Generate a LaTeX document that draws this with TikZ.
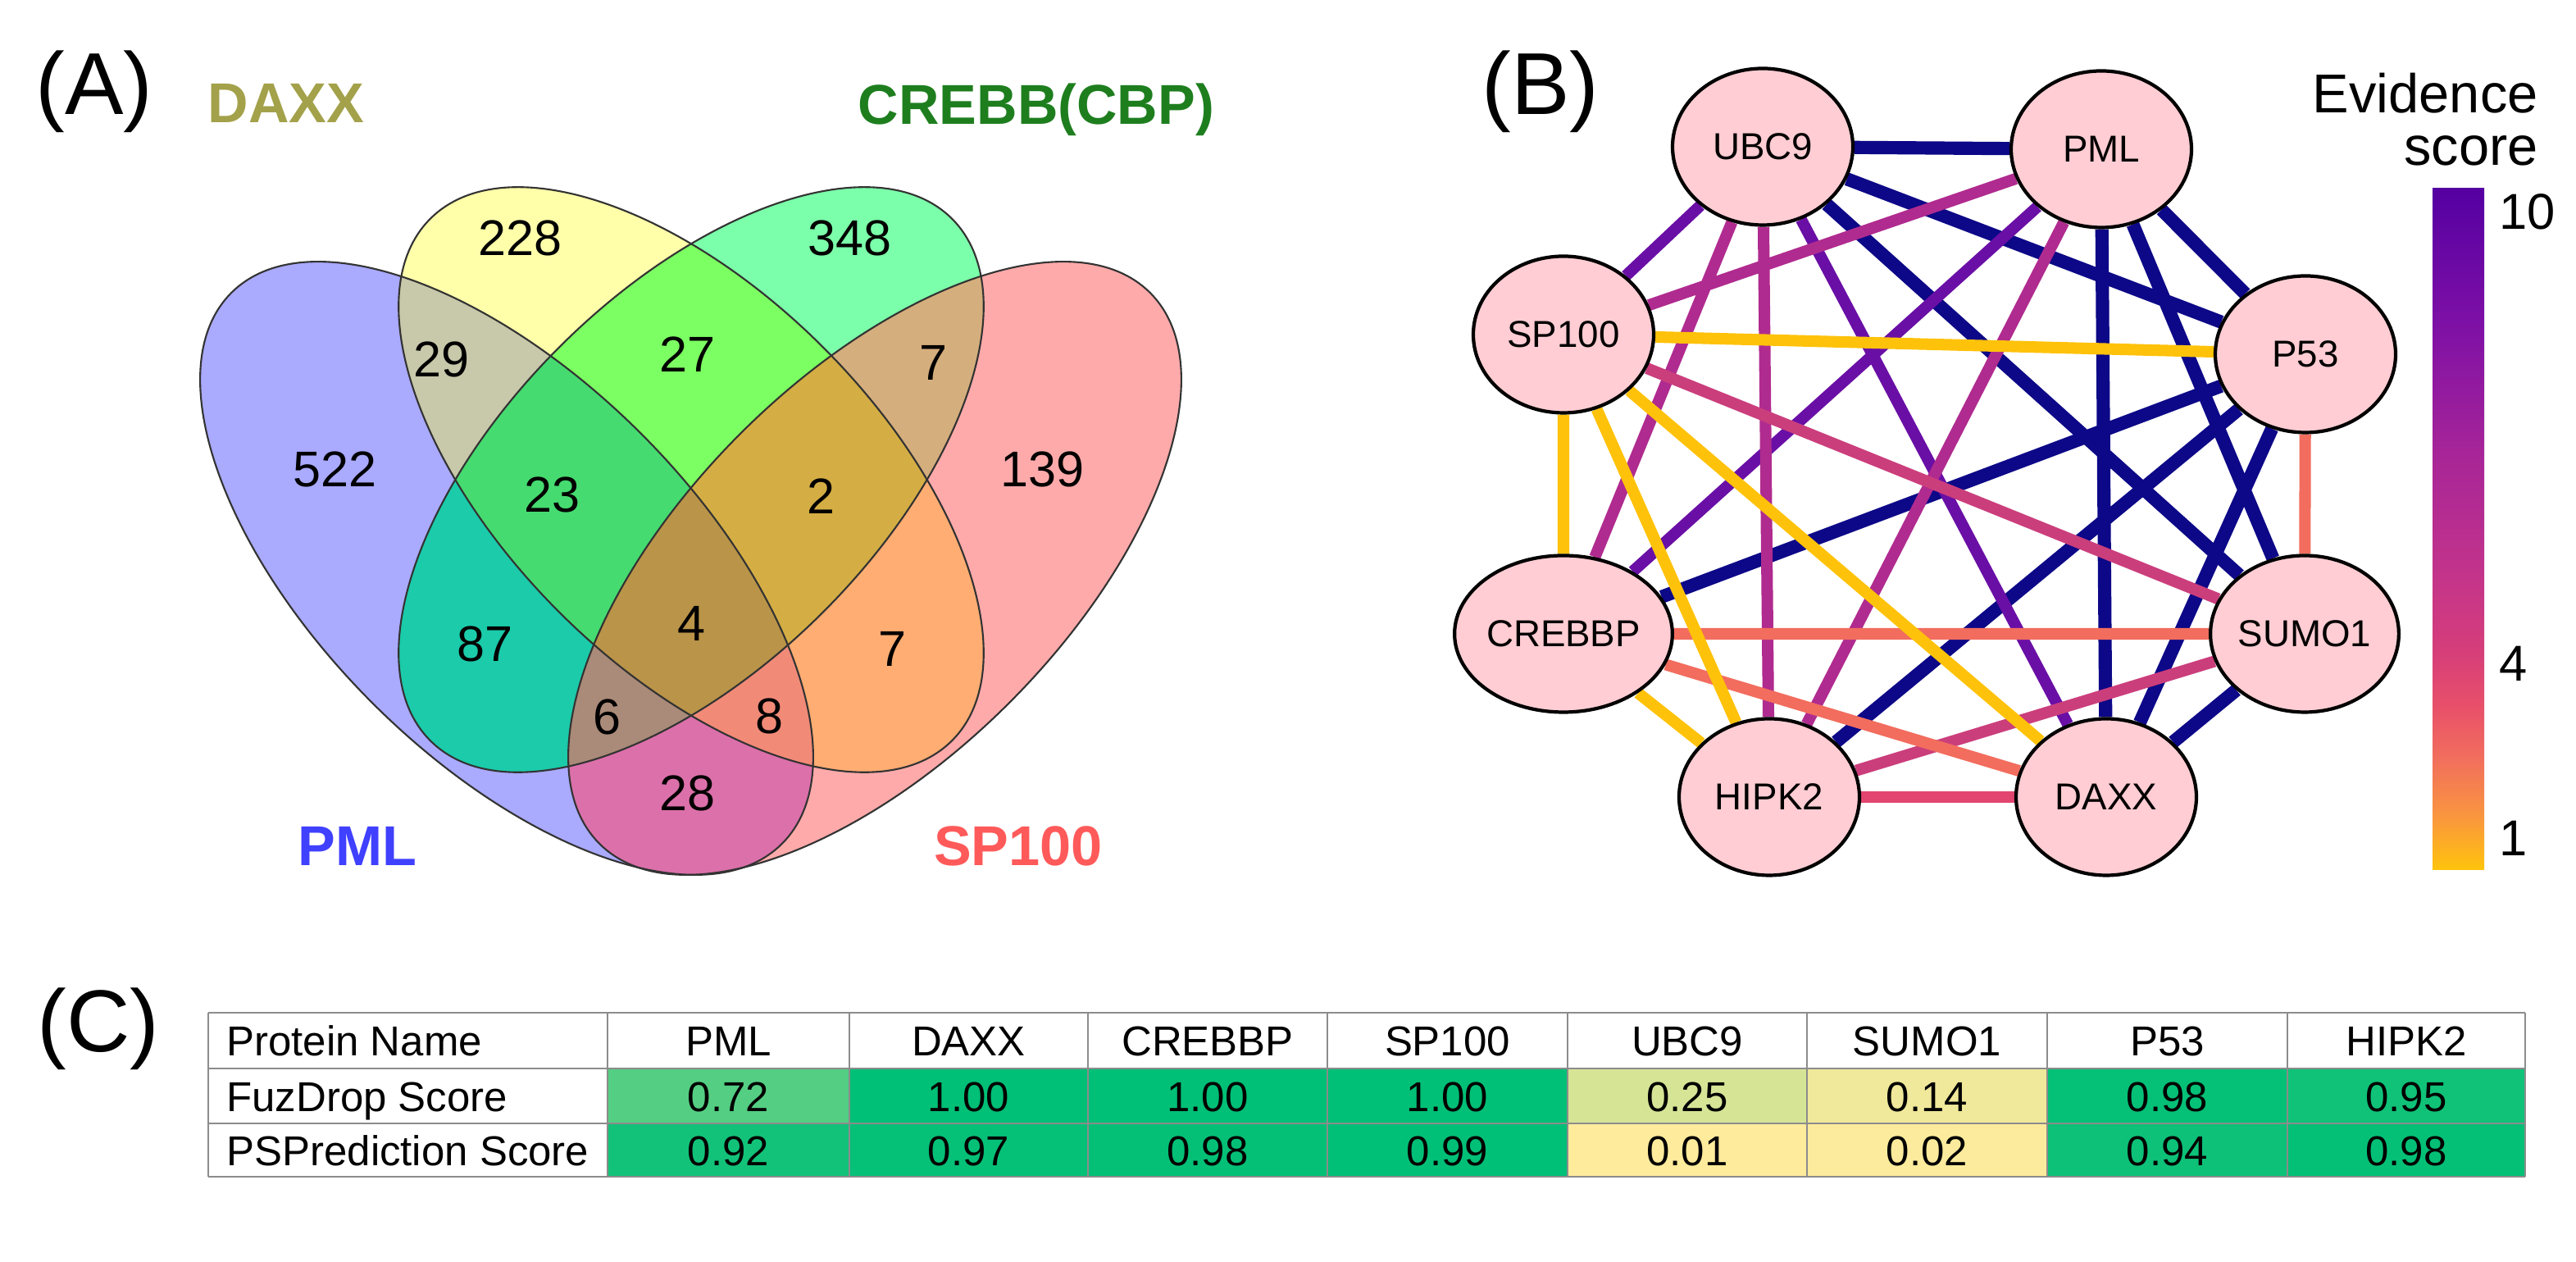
\documentclass[tikz,border=0pt]{standalone}
\usepackage{fontspec}
\setmainfont{Liberation Sans}
\usetikzlibrary{shapes.geometric,backgrounds}

\definecolor{vP}{HTML}{AAAAFF}
\definecolor{vD}{HTML}{FFFFAA}
\definecolor{vC}{HTML}{7CFFAA}
\definecolor{vS}{HTML}{FFAAAA}
\definecolor{vPD}{HTML}{C8C8AA}
\definecolor{vPC}{HTML}{1BCBAA}
\definecolor{vPS}{HTML}{DC70AA}
\definecolor{vDC}{HTML}{7CFF62}
\definecolor{vDS}{HTML}{FFAD72}
\definecolor{vCS}{HTML}{D5AE7D}
\definecolor{vPDC}{HTML}{45DB70}
\definecolor{vPDS}{HTML}{F28A78}
\definecolor{vPCS}{HTML}{AA8A78}
\definecolor{vDCS}{HTML}{D4AE44}
\definecolor{vall}{HTML}{BA9448}
\definecolor{lPML}{HTML}{4040FF}
\definecolor{lDAXX}{HTML}{A3A14A}
\definecolor{lCBP}{HTML}{1E7E1E}
\definecolor{lSP}{HTML}{FF5A5A}
\definecolor{protpink}{HTML}{FFCDD3}
\definecolor{enavy}{HTML}{0D0887}
\definecolor{epurple}{HTML}{6A0FA6}
\definecolor{emag}{HTML}{B02B8F}
\definecolor{epink}{HTML}{CB3E7C}
\definecolor{erose}{HTML}{E2456F}
\definecolor{ecoral}{HTML}{F26D5E}
\definecolor{egold}{HTML}{FFC20A}
\definecolor{tgreen}{HTML}{00BF76}
\definecolor{tyellow}{HTML}{FFEB9C}
\definecolor{cbA}{HTML}{FFC40C}
\definecolor{cbB}{HTML}{F9953F}
\definecolor{cbC}{HTML}{F2705C}
\definecolor{cbD}{HTML}{E8506A}
\definecolor{cbE}{HTML}{D63E7A}
\definecolor{cbF}{HTML}{C2338B}
\definecolor{cbG}{HTML}{A92697}
\definecolor{cbH}{HTML}{7E10A6}
\definecolor{cbI}{HTML}{5500A2}

\pgfdeclareverticalshading{evidencebar}{100bp}{color(0bp)=(cbA); color(25bp)=(cbA); color(29bp)=(cbB); color(33bp)=(cbC); color(37bp)=(cbD); color(41bp)=(cbE); color(47bp)=(cbF); color(55bp)=(cbG); color(65bp)=(cbH); color(75bp)=(cbI); color(100bp)=(cbI)}

\newcommand{\vennell}[6]{\path[#6,rotate around={#3:(#1,#2)}] (#1,#2) ellipse (#4 and #5);}
\newcommand{\setPML}[1]{\vennell{6.18}{8.46}{-45}{4.75}{2.32}{#1}}
\newcommand{\setDAXX}[1]{\vennell{8.43}{9.54}{-45}{4.50}{2.28}{#1}}
\newcommand{\setCBP}[1]{\vennell{8.43}{9.54}{45}{4.50}{2.28}{#1}}
\newcommand{\setSP}[1]{\vennell{10.67}{8.46}{45}{4.75}{2.32}{#1}}

\begin{document}
\begin{tikzpicture}[
    num/.style={font=\fontsize{17.4}{20}\selectfont},
    setlabel/.style={anchor=base,font=\bfseries\fontsize{19.5}{22}\selectfont},
    panel/.style={anchor=base,font=\fontsize{30.5}{34}\selectfont},
    prot/.style={ellipse,draw=black,line width=1.2pt,fill=protpink,minimum width=2.2cm,minimum height=1.91cm,inner sep=0pt,font=\fontsize{13}{15}\selectfont},
    link/.style={line width=4pt},
    strong/.style={line width=4.6pt},
    cbtext/.style={font=\fontsize{19}{22}\selectfont},
    tick/.style={anchor=west,font=\fontsize{17.5}{20}\selectfont},
    cell/.style={anchor=base,font=\fontsize{14.5}{17}\selectfont},
    tabline/.style={draw=black!45,line width=0.6pt}]
  \useasboundingbox (0,0) rectangle (31.42,15.39);

  \setPML{fill=vP} \setDAXX{fill=vD} \setCBP{fill=vC} \setSP{fill=vS}
  \begin{scope}\setPML{clip}\setDAXX{fill=vPD}\end{scope}
  \begin{scope}\setPML{clip}\setCBP{fill=vPC}\end{scope}
  \begin{scope}\setPML{clip}\setSP{fill=vPS}\end{scope}
  \begin{scope}\setDAXX{clip}\setCBP{fill=vDC}\end{scope}
  \begin{scope}\setDAXX{clip}\setSP{fill=vDS}\end{scope}
  \begin{scope}\setCBP{clip}\setSP{fill=vCS}\end{scope}
  \begin{scope}\setPML{clip}\setDAXX{clip}\setCBP{fill=vPDC}\end{scope}
  \begin{scope}\setPML{clip}\setDAXX{clip}\setSP{fill=vPDS}\end{scope}
  \begin{scope}\setPML{clip}\setCBP{clip}\setSP{fill=vPCS}\end{scope}
  \begin{scope}\setDAXX{clip}\setCBP{clip}\setSP{fill=vDCS}\end{scope}
  \begin{scope}\setPML{clip}\setDAXX{clip}\setCBP{clip}\setSP{fill=vall}\end{scope}
  \setPML{draw=black!80,line width=0.6pt} \setDAXX{draw=black!80,line width=0.6pt}
  \setCBP{draw=black!80,line width=0.6pt} \setSP{draw=black!80,line width=0.6pt}

  \node[panel] (pa) at (1.15,13.99) {(A)};
  \node[setlabel,text=lDAXX] (tdaxx) at (3.49,13.89) {DAXX};
  \node[setlabel,text=lCBP] (tcbp) at (12.64,13.87) {CREBB(CBP)};
  \node[setlabel,text=lPML] (tpml) at (4.36,4.83) {PML};
  \node[setlabel,text=lSP] (tsp) at (12.42,4.83) {SP100};
  \node[num] (n228) at (6.35,12.49) {228};
  \node[num] (n348) at (10.37,12.49) {348};
  \node[num] (n29) at (5.39,11.01) {29};
  \node[num] (n27) at (8.39,11.07) {27};
  \node[num] (n7a) at (11.38,10.97) {7};
  \node[num] (n522) at (4.09,9.67) {522};
  \node[num] (n23) at (6.74,9.36) {23};
  \node[num] (n2) at (10.01,9.34) {2};
  \node[num] (n139) at (12.72,9.67) {139};
  \node[num] (n87) at (5.92,7.54) {87};
  \node[num] (n4) at (8.43,7.79) {4};
  \node[num] (n7b) at (10.88,7.48) {7};
  \node[num] (n6) at (7.41,6.65) {6};
  \node[num] (n8) at (9.38,6.66) {8};
  \node[num] (n28) at (8.39,5.72) {28};

  \node[panel] (pb) at (18.79,13.99) {(B)};
  \node[prot] (ubc9) at (21.50,13.60) {UBC9};
  \node[prot] (pml) at (25.63,13.57) {PML};
  \node[prot] (sp100) at (19.07,11.31) {SP100};
  \node[prot] (p53) at (28.12,11.07) {P53};
  \node[prot] (crebbp) at (19.07,7.66) {CREBBP};
  \node[prot] (sumo1) at (28.11,7.66) {SUMO1};
  \node[prot] (hipk2) at (21.58,5.67) {HIPK2};
  \node[prot] (daxx) at (25.69,5.67) {DAXX};
  \begin{scope}[on background layer]
    \draw[strong,draw=enavy] (ubc9) -- (pml) (ubc9) -- (p53) (ubc9) -- (sumo1) (pml) -- (daxx) (pml) -- (sumo1)
      (pml) -- (p53) (p53) -- (crebbp) (p53) -- (hipk2) (p53) -- (daxx) (sumo1) -- (daxx);
    \draw[link,draw=epurple] (ubc9) -- (daxx) (ubc9) -- (sp100) (pml) -- (crebbp);
    \draw[link,draw=emag] (ubc9) -- (hipk2) (ubc9) -- (crebbp) (pml) -- (sp100) (pml) -- (hipk2);
    \draw[link,draw=epink] (sp100) -- (sumo1) (sumo1) -- (hipk2);
    \draw[link,draw=erose] (hipk2) -- (daxx);
    \draw[link,draw=ecoral] (p53) -- (sumo1) (crebbp) -- (sumo1) (crebbp) -- (daxx);
    \draw[link,draw=egold] (sp100) -- (p53) (sp100) -- (daxx) (sp100) -- (hipk2) (sp100) -- (crebbp) (crebbp) -- (hipk2);
  \end{scope}
  \node[cbtext,anchor=base east] (ev1) at (31.08,14.01) {Evidence};
  \node[cbtext,anchor=base east] (ev2) at (31.08,13.37) {score};
  \shade[shading=evidencebar] (29.67,4.78) rectangle (30.30,13.09);
  \node[tick] (t10) at (30.36,12.81) {10};
  \node[tick] (t4) at (30.36,7.30) {4};
  \node[tick] (t1) at (30.36,5.17) {1};

  \node[panel] (pc) at (1.20,2.56) {(C)};
  \foreach \l/\r/\name/\fz/\fzc/\ps/\psc in {7.41/10.36/PML/0.72/67/0.92/93, 10.36/13.27/DAXX/1.00/100/0.97/98,
      13.27/16.19/CREBBP/1.00/100/0.98/99, 16.19/19.12/SP100/1.00/100/0.99/100, 19.12/22.04/UBC9/0.25/16/0.01/0,
      22.04/24.97/SUMO1/0.14/6/0.02/1, 24.97/27.90/P53/0.98/98/0.94/95, 27.90/30.80/HIPK2/0.95/94/0.98/99} {
    \fill[tgreen!\fzc!tyellow] (\l,2.36) rectangle (\r,1.69);
    \fill[tgreen!\psc!tyellow] (\l,1.69) rectangle (\r,1.04);
    \node[cell] (h\name) at ({(\l+\r)/2},2.51) {\name};
    \node[cell] (f\name) at ({(\l+\r)/2},1.835) {\fz};
    \node[cell] (p\name) at ({(\l+\r)/2},1.175) {\ps};
  }
  \foreach \y in {3.04,2.36,1.69,1.04} \draw[tabline] (2.54,\y) -- (30.80,\y);
  \foreach \x in {2.54,7.41,10.36,13.27,16.19,19.12,22.04,24.97,27.90,30.80} \draw[tabline] (\x,1.04) -- (\x,3.04);
  \node[cell,anchor=base west] (rname) at (2.64,2.51) {Protein Name};
  \node[cell,anchor=base west] (rfuz) at (2.64,1.835) {FuzDrop Score};
  \node[cell,anchor=base west] (rps) at (2.64,1.175) {PSPrediction Score};
\end{tikzpicture}
\end{document}
